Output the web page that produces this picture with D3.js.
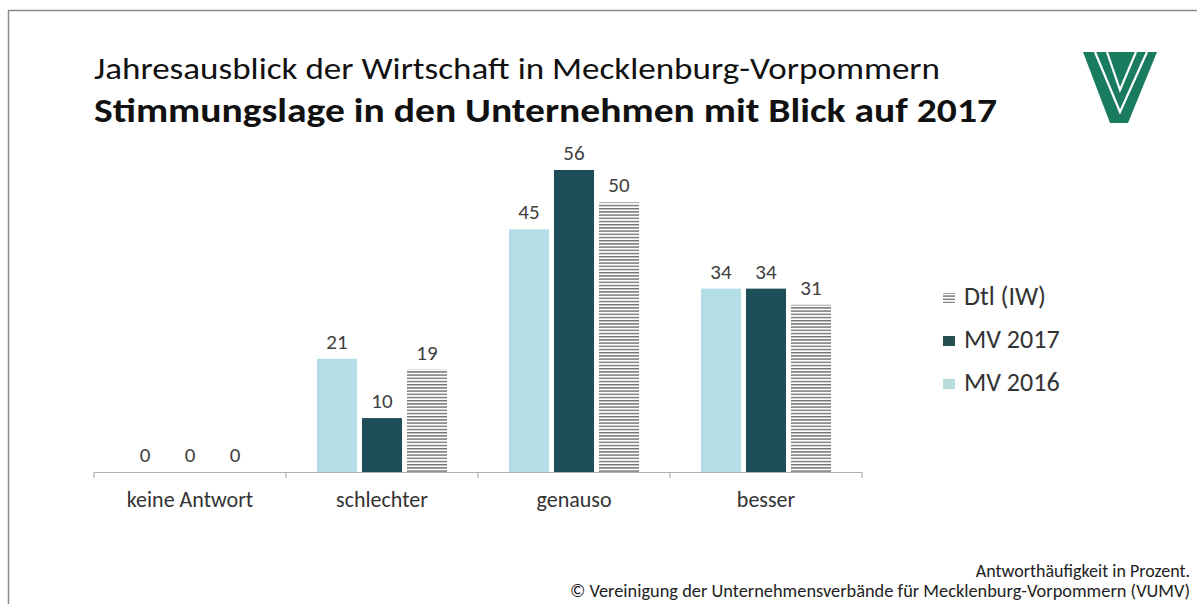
<!DOCTYPE html>
<html>
<head>
<meta charset="utf-8">
<script src="https://cdn.jsdelivr.net/npm/d3@7"></script>
<style>
  body { margin: 0; background: #fff; }
  svg { display: block; font-family: Carlito, Calibri, "Open Sans", sans-serif; }
</style>
</head>
<body>
<div id="chart"></div>
<script>
// chart data
var categories = ["keine Antwort", "schlechter", "genauso", "besser"];
var seriesNames = ["MV 2016", "MV 2017", "Dtl (IW)"];
var mv2016 = [0, 21, 45, 34];
var mv2017 = [0, 10, 56, 34];
var dtl = [0, 19, 50, 31];
var legendOrder = ["Dtl (IW)", "MV 2017", "MV 2016"];

var W = 1197, H = 604;
var svg = d3.select("#chart").append("svg")
  .attr("width", W).attr("height", H);

var defs = svg.append("defs");
var pat = defs.append("pattern")
  .attr("id", "stripes")
  .attr("patternUnits", "userSpaceOnUse")
  .attr("width", 6).attr("height", 3.2);
pat.append("rect").attr("width", 6).attr("height", 3.2).attr("fill", "#fff");
pat.append("rect").attr("y", 0).attr("width", 6).attr("height", 1.4).attr("fill", "#707070");

var colors = {"MV 2016": "#b3dee6", "MV 2017": "#1e4f58", "Dtl (IW)": "url(#stripes)"};
var legendColors = {"MV 2016": "#b8dcdc", "MV 2017": "#24504f", "Dtl (IW)": "url(#stripes)"};

// frame
svg.append("rect")
  .attr("x", 8.5).attr("y", 10.5)
  .attr("width", W).attr("height", H)
  .attr("fill", "none").attr("stroke", "#8a8a8a").attr("stroke-width", 1.5);

// titles
svg.append("text")
  .attr("x", 94).attr("y", 79)
  .attr("font-size", 31).attr("fill", "#111")
  .attr("textLength", 846).attr("lengthAdjust", "spacingAndGlyphs")
  .text("Jahresausblick der Wirtschaft in Mecklenburg-Vorpommern");
svg.append("text")
  .attr("x", 94).attr("y", 122)
  .attr("font-size", 33.5).attr("font-weight", "bold").attr("fill", "#111")
  .attr("textLength", 903).attr("lengthAdjust", "spacingAndGlyphs")
  .text("Stimmungslage in den Unternehmen mit Blick auf 2017");

// logo
var logo = svg.append("g").attr("transform", "translate(1083,52)");
logo.append("path")
  .attr("d", "M0,0 L74,0 L45,71 L27,71 Z")
  .attr("fill", "#1a7c5e");
logo.append("path")
  .attr("d", "M12,0 L37,60 L64,0")
  .attr("fill", "none").attr("stroke", "#fff").attr("stroke-width", 2.2);
logo.append("path")
  .attr("d", "M24,0 L37,38 L53,0")
  .attr("fill", "none").attr("stroke", "#fff").attr("stroke-width", 2.2);

// scales
var x0 = d3.scaleBand().domain(categories).range([94, 862]);
var x1 = d3.scaleBand().domain(seriesNames).range([0, 130]).paddingInner(0.11);
var y = d3.scaleLinear().domain([0, 56]).range([472, 170]);

var table = categories.map(function(c, i) {
  return {cat: c, vals: [
    {name: "MV 2016", v: mv2016[i]},
    {name: "MV 2017", v: mv2017[i]},
    {name: "Dtl (IW)", v: dtl[i]}
  ]};
});

var groups = svg.selectAll(".grp")
  .data(table)
  .enter().append("g")
  .attr("class", "grp")
  .attr("transform", function(d) {
    return "translate(" + (x0(d.cat) + x0.bandwidth() / 2 - 65) + ",0)";
  });

groups.selectAll("rect")
  .data(function(d) { return d.vals; })
  .enter().append("rect")
  .attr("x", function(d) { return x1(d.name); })
  .attr("y", function(d) { return y(d.v); })
  .attr("width", x1.bandwidth())
  .attr("height", function(d) { return y(0) - y(d.v); })
  .attr("fill", function(d) { return colors[d.name]; });

groups.selectAll("text")
  .data(function(d) { return d.vals; })
  .enter().append("text")
  .attr("x", function(d) { return x1(d.name) + x1.bandwidth() / 2; })
  .attr("y", function(d) { return y(d.v) - 10; })
  .attr("text-anchor", "middle")
  .attr("font-size", 21).attr("fill", "#404040")
  .text(function(d) { return d.v; });

// x axis
var axis = svg.append("g").attr("transform", "translate(0,472)")
  .call(d3.axisBottom(x0).tickSize(0).tickPadding(19));
axis.select(".domain").attr("stroke", "#b0b0b0").attr("stroke-width", 1.2);
axis.selectAll(".tick text")
  .attr("font-size", 22).attr("fill", "#333")
  .attr("font-family", "Carlito, Calibri, 'Open Sans', sans-serif");
var bounds = categories.map(function(c) { return x0(c); }).concat([x0.range()[1]]);
axis.selectAll(".divider")
  .data(bounds)
  .enter().append("line")
  .attr("class", "divider")
  .attr("x1", function(d) { return d; }).attr("x2", function(d) { return d; })
  .attr("y1", 0).attr("y2", 6)
  .attr("stroke", "#b0b0b0").attr("stroke-width", 1.2);

// legend
var leg = svg.selectAll(".leg")
  .data(legendOrder)
  .enter().append("g")
  .attr("class", "leg")
  .attr("transform", function(d, i) { return "translate(943," + (305 + i * 43) + ")"; });
leg.append("rect")
  .attr("x", 0).attr("y", -12).attr("width", 12).attr("height", 10)
  .attr("fill", function(d) { return legendColors[d]; });
leg.append("text")
  .attr("x", 21).attr("y", 0)
  .attr("font-size", 26).attr("fill", "#333")
  .text(function(d) { return d; });

// footer
svg.append("text")
  .attr("x", 1190).attr("y", 577).attr("text-anchor", "end")
  .attr("font-size", 18).attr("fill", "#222")
  .text("Antworthäufigkeit in Prozent.");
svg.append("text")
  .attr("x", 1190).attr("y", 597).attr("text-anchor", "end")
  .attr("font-size", 18).attr("fill", "#222")
  .attr("textLength", 620).attr("lengthAdjust", "spacingAndGlyphs")
  .text("© Vereinigung der Unternehmensverbände für Mecklenburg-Vorpommern (VUMV)");
</script>
</body>
</html>
